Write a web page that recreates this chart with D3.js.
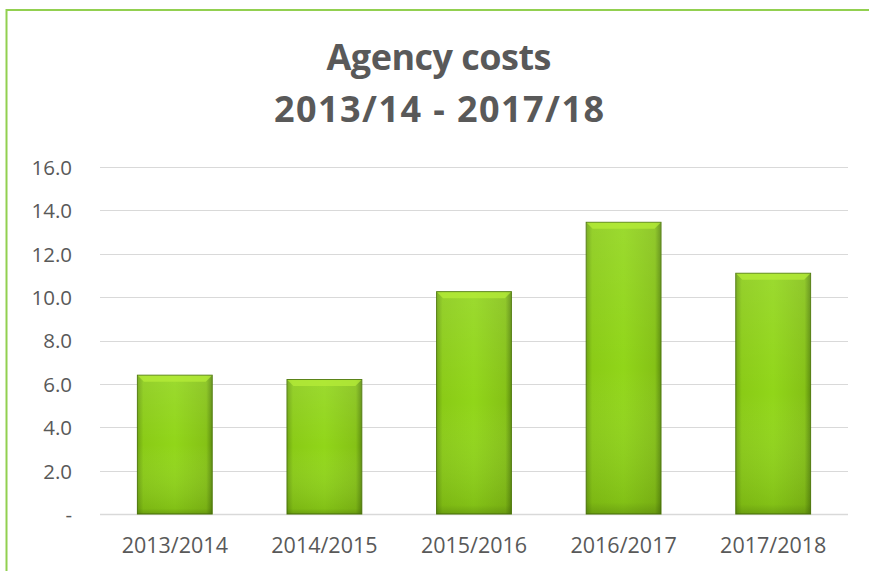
<!DOCTYPE html>
<html>
<head>
<meta charset="utf-8">
<script src="https://cdn.jsdelivr.net/npm/d3@7"></script>
<style>
  body { margin: 0; background: #fff; }
  svg { display: block; font-family: "Open Sans", "Liberation Sans", sans-serif; }
</style>
</head>
<body>
<svg width="869" height="571"></svg>
<script>
// chart data
var years = ["2013/2014", "2014/2015", "2015/2016", "2016/2017", "2017/2018"];
var costs = [6.4, 6.2, 10.25, 13.45, 11.1];
var yTicks = [0, 2, 4, 6, 8, 10, 12, 14, 16];
var titleLines = ["Agency costs", "2013/14 - 2017/18"];

var svg = d3.select("svg");

// plot area
var plotL = 100, plotR = 848, plotT = 167, plotB = 514;

// outer frame (only top and left edges show)
svg.append("rect")
  .attr("x", 6.5).attr("y", 10)
  .attr("width", 900).attr("height", 600)
  .attr("fill", "none")
  .attr("stroke", "#92d050")
  .attr("stroke-width", 2);

// gradients for the bevelled bars
var defs = svg.append("defs");
var grad = defs.append("linearGradient").attr("id", "barH")
  .attr("x1", "0").attr("x2", "1").attr("y1", "0").attr("y2", "0");
grad.append("stop").attr("offset", "0").attr("stop-color", "#6ea511");
grad.append("stop").attr("offset", "0.08").attr("stop-color", "#8acb16");
grad.append("stop").attr("offset", "0.5").attr("stop-color", "#91d619");
grad.append("stop").attr("offset", "0.92").attr("stop-color", "#85c216");
grad.append("stop").attr("offset", "1").attr("stop-color", "#5e8f0e");

var gradV = defs.append("linearGradient").attr("id", "barV")
  .attr("x1", "0").attr("x2", "0").attr("y1", "0").attr("y2", "1");
gradV.append("stop").attr("offset", "0").attr("stop-color", "#ffffff").attr("stop-opacity", 0.1);
gradV.append("stop").attr("offset", "0.5").attr("stop-color", "#ffffff").attr("stop-opacity", 0);
gradV.append("stop").attr("offset", "0.96").attr("stop-color", "#2f4a05").attr("stop-opacity", 0.15);
gradV.append("stop").attr("offset", "1").attr("stop-color", "#2f4a05").attr("stop-opacity", 0.35);

var x = d3.scaleBand().domain(years).range([plotL, plotR]).paddingInner(0.5).paddingOuter(0.25);
var y = d3.scaleLinear().domain([0, 16]).range([plotB, plotT]);

// gridlines
svg.append("g")
  .selectAll("line")
  .data(yTicks)
  .join("line")
  .attr("x1", plotL).attr("x2", plotR)
  .attr("y1", function(d) { return Math.round(y(d)) + 0.5; })
  .attr("y2", function(d) { return Math.round(y(d)) + 0.5; })
  .attr("stroke", "#d9d9d9")
  .attr("stroke-width", function(d) { return d === 0 ? 1.5 : 1; });

// y axis labels
var yAxis = d3.axisLeft(y)
  .tickValues(yTicks)
  .tickSize(0)
  .tickPadding(0)
  .tickFormat(function(d) { return d === 0 ? "-" : d3.format(".1f")(d); });
var ya = svg.append("g")
  .attr("transform", "translate(72,0)")
  .call(yAxis);
ya.select(".domain").remove();
ya.selectAll("text")
  .attr("fill", "#595959")
  .attr("font-family", "'Open Sans', sans-serif")
  .attr("font-size", 20.5)
  .attr("dy", "0.36em");

// x axis labels
var xAxis = d3.axisBottom(x).tickSize(0).tickPadding(0);
var xa = svg.append("g")
  .attr("transform", "translate(0,538)")
  .call(xAxis);
xa.select(".domain").remove();
xa.selectAll("text")
  .attr("fill", "#595959")
  .attr("font-family", "'Open Sans', sans-serif")
  .attr("font-size", 21.5);

// bars
var bars = svg.append("g");
bars.selectAll("rect.base")
  .data(costs)
  .join("rect")
  .attr("class", "base")
  .attr("x", function(d, i) { return x(years[i]); })
  .attr("y", function(d) { return y(d); })
  .attr("width", x.bandwidth())
  .attr("height", function(d) { return plotB - y(d); })
  .attr("fill", "url(#barH)")
  .attr("stroke", "#4f7a0a")
  .attr("stroke-width", 1);
bars.selectAll("rect.shade")
  .data(costs)
  .join("rect")
  .attr("class", "shade")
  .attr("x", function(d, i) { return x(years[i]); })
  .attr("y", function(d) { return y(d); })
  .attr("width", x.bandwidth())
  .attr("height", function(d) { return plotB - y(d); })
  .attr("fill", "url(#barV)");
// top bevel highlight
bars.selectAll("path.bevel")
  .data(costs)
  .join("path")
  .attr("class", "bevel")
  .attr("d", function(d, i) {
    var x0 = x(years[i]) + 0.5, x1 = x0 + x.bandwidth() - 1, y0 = y(d) + 0.5;
    return "M" + x0 + "," + y0 + "L" + x1 + "," + y0 + "L" + (x1 - 6) + "," + (y0 + 6) + "L" + (x0 + 6) + "," + (y0 + 6) + "Z";
  })
  .attr("fill", "#b6ec38")
  .attr("opacity", 0.75);

// title
svg.append("g")
  .selectAll("text")
  .data(titleLines)
  .join("text")
  .attr("x", 439)
  .attr("y", function(d, i) { return 70 + i * 52; })
  .attr("text-anchor", "middle")
  .attr("font-size", 36)
  .attr("font-weight", "bold")
  .attr("fill", "#595959")
  .attr("textLength", function(d, i) { return i === 0 ? 225 : 330; })
  .attr("lengthAdjust", "spacing")
  .text(function(d) { return d; });
</script>
</body>
</html>
